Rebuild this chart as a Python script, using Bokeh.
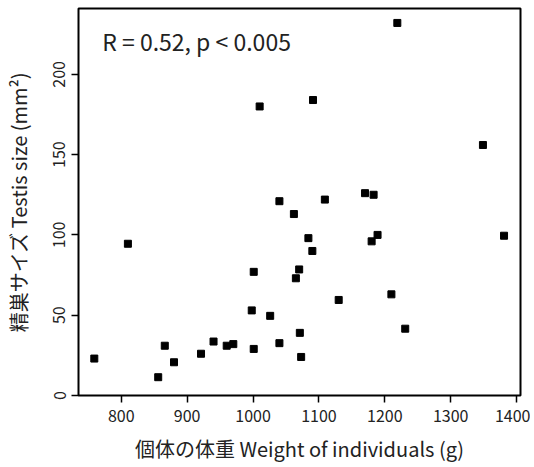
from bokeh.plotting import figure
from bokeh.models import Range1d, FixedTicker, Label
from bokeh.embed import file_html
from bokeh.resources import INLINE

weight = [759, 810, 856, 866, 880, 921, 940, 960, 970, 998, 1001, 1001, 1010, 1026,
          1040, 1040, 1062, 1065, 1070, 1071, 1073, 1084, 1090, 1091, 1109, 1130,
          1170, 1180, 1183, 1189, 1210, 1219, 1231, 1349, 1381]
testis = [23, 94.5, 11.4, 31, 20.7, 26, 33.6, 31, 32, 53, 77, 29, 180, 49.6,
          121, 32.6, 113, 73, 78.5, 39, 24, 98, 90, 184, 122, 59.5,
          126, 96, 125, 100, 63, 232, 41.6, 156, 99.5]
x_ticks = [800, 900, 1000, 1100, 1200, 1300, 1400]
y_ticks = [0, 50, 100, 150, 200]
stat_text = "R = 0.52, p < 0.005"
x_title = "個体の体重 Weight of individuals (g)"
y_title = "精巣サイズ Testis size (mm²)"

FONT = "Noto Sans CJK JP"
INK = "#222222"

p = figure(width=530, height=465, output_backend="svg", toolbar_location=None,
           x_range=Range1d(735, 1406), y_range=Range1d(0, 241),
           min_border_left=75, min_border_right=10, min_border_top=8, min_border_bottom=70)
p.grid.visible = False
p.outline_line_color = "black"
p.outline_line_width = 2
p.background_fill_color = "white"
p.border_fill_color = "white"

p.xaxis.ticker = FixedTicker(ticks=x_ticks)
p.yaxis.ticker = FixedTicker(ticks=y_ticks)
for ax in (p.xaxis, p.yaxis):
    ax.axis_line_color = None
    ax.major_tick_line_color = "black"
    ax.major_tick_line_width = 1.5
    ax.major_tick_out = 7
    ax.major_tick_in = 0
    ax.minor_tick_line_color = None
    ax.major_label_text_font = FONT
    ax.major_label_text_font_size = "16px"
    ax.major_label_text_color = INK
    ax.axis_label_text_font = FONT
    ax.axis_label_text_font_size = "20px"
    ax.axis_label_text_font_style = "normal"
    ax.axis_label_text_color = INK
p.yaxis.major_label_orientation = "vertical"
p.xaxis.axis_label = x_title
p.yaxis.axis_label = y_title
p.xaxis.major_label_standoff = 7
p.xaxis.axis_label_standoff = 9
p.yaxis.major_label_standoff = 6
p.yaxis.axis_label_standoff = 18

p.scatter(x=weight, y=testis, marker="square", size=7, fill_color="black", line_color="black")

stat = Label(x=771, y=221, text=stat_text, text_font=FONT, text_font_size="23px",
             text_color=INK, text_baseline="middle")
p.add_layout(stat)

open("out.html", "w").write(file_html(p, INLINE))
